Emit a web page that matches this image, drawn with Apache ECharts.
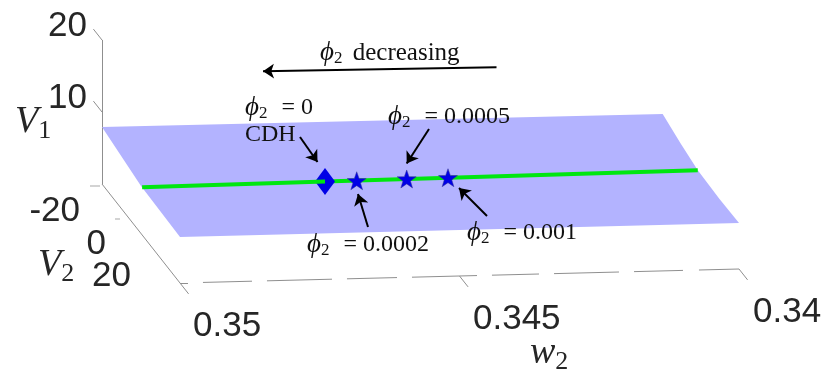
<!DOCTYPE html>
<html>
<head>
<meta charset="utf-8">
<title>V1 V2 w2</title>
<style>
html,body{margin:0;padding:0;background:#fff}
#chart{width:830px;height:391px}
</style>
<script src="https://cdn.jsdelivr.net/npm/echarts@6/dist/echarts.min.js"></script>
</head>
<body>
<div id="chart"></div>
<script>
// tick values
var w2Ticks = [0.35, 0.345, 0.34];
var w2TickLabels = ['0.35', '0.345', '0.34'];
var v2Ticks = [-20, 0, 20];
var v2TickLabels = ['-20', '0', '20'];
var v1Ticks = [10, 20];
var v1TickLabels = ['10', '20'];

// surface outline, going round the sheet
var surfaceW = [0.35, 0.33997, 0.34, 0.34004, 0.34, 0.34, 0.35, 0.35];
var surfaceV2 = [-20, -20, -10, 0, 10, 20, 20, 0];
var surfaceV1 = [7.92, 7.78, 7.15, 6.85, 6.3, 6.39, 6.39, 6.6];

// green branch (V2 = 0), left and right of the CDH point
var branchLeftW = [0.34998, 0.346708];
var branchLeftV1 = [6.43, 6.58];
var branchRightW = [0.346708, 0.34004];
var branchRightV1 = [6.58, 6.85];

// CDH point and the stars
var cdhPoint = [0.346708, 6.58];
var starW = [0.346141, 0.345247, 0.344508];
var starV1 = [6.58, 6.65, 6.68];

// near edge of the floor is broken into dashes
var edgeDashes = [
  [0.35, 0.349857], [0.349589, 0.348712], [0.348444, 0.347281],
  [0.347013, 0.346118], [0.34585, 0.344687], [0.344419, 0.343578],
  [0.343309, 0.342147], [0.341878, 0.341002], [0.340716, 0.34]
];

// w2, V2, V1 -> page position
function project(w, v2, v1) {
  return [
    102 + (0.35 - w) * 55900 + (v2 + 20) * 1.95,
    184 - (0.35 - w) * 1400 + (v2 + 20) * 2.475 - v1 * 7.2
  ];
}

var surfacePts = surfaceW.map(function (w, i) {
  return project(w, surfaceV2[i], surfaceV1[i]);
});

var axisSegs = [];
axisSegs.push({ coords: [project(0.35, -20, 0), project(0.35, -20, 20)] });
axisSegs.push({ coords: [project(0.35, -20, 0), project(0.35, 20, 0)] });
edgeDashes.forEach(function (d) {
  axisSegs.push({ coords: [project(d[0], 20, 0), project(d[1], 20, 0)] });
});
w2Ticks.forEach(function (w) {
  axisSegs.push({ coords: [project(w, 20, 0), project(w, 24.4, 0)] });
});
v1Ticks.forEach(function (v) {
  axisSegs.push({ coords: [project(0.35, -20, v), project(0.35, -24.4, v)] });
});

var arrows = [
  { coords: [[496.5, 67.3], [263, 71.3]] },
  { coords: [[300, 137], [317.5, 162]] },
  { coords: [[429, 129], [406.7, 163.5]] },
  { coords: [[368, 227], [358, 194]] },
  { coords: [[487, 216], [459, 188]] }
];

var mathRich = {
  p: { fontFamily: 'Liberation Serif', fontStyle: 'italic', fontSize: 27, fill: '#111' },
  s: { fontFamily: 'Liberation Serif', fontSize: 17, fill: '#111', padding: [12, 4, 0, 0] },
  t: { fontFamily: 'Liberation Serif', fontSize: 24, fill: '#111', padding: [0, 0, 0, 4] },
  c: { fontFamily: 'Liberation Serif', fontSize: 24, fill: '#111' },
  d: { fontFamily: 'Liberation Serif', fontSize: 25, fill: '#111' }
};
var bigRich = {
  p: { fontFamily: 'Liberation Serif', fontStyle: 'italic', fontSize: 38, fill: '#262626' },
  s: { fontFamily: 'Liberation Serif', fontSize: 26, fill: '#262626', padding: [18, 0, 0, 0] }
};

function mathText(str, x, y) {
  return {
    type: 'text', x: x, y: y, z: 100, silent: true,
    style: { text: str, rich: mathRich, textAlign: 'left', textVerticalAlign: 'middle' }
  };
}
function axisName(str, x, y) {
  return {
    type: 'text', x: x, y: y, z: 100, silent: true,
    style: { text: str, rich: bigRich, textAlign: 'left', textVerticalAlign: 'middle' }
  };
}
function tickText(str, x, y, align) {
  return {
    type: 'text', x: x, y: y, z: 100, silent: true,
    style: {
      text: str, fill: '#262626', textAlign: align, textVerticalAlign: 'middle',
      font: '35px "Liberation Sans"'
    }
  };
}

var texts = [
  tickText(v1TickLabels[1], 87, 26, 'right'),
  tickText(v1TickLabels[0], 87, 98, 'right'),
  tickText(v2TickLabels[0], 80, 211, 'right'),
  tickText(v2TickLabels[1], 106, 244, 'right'),
  tickText(v2TickLabels[2], 131, 276, 'right'),
  tickText(w2TickLabels[0], 193, 326, 'left'),
  tickText(w2TickLabels[1], 473, 319, 'left'),
  tickText(w2TickLabels[2], 753, 312, 'left'),
  axisName('{p|V}{s|1}', 15, 122),
  axisName('{p|V}{s|2}', 38, 265),
  axisName('{p|w}{s|2}', 530, 353),
  mathText('{p|ϕ}{s|2}{d| decreasing}', 320, 53),
  mathText('{p|ϕ}{s|2}{t| = 0}', 245, 108),
  mathText('{c|CDH}', 245, 135),
  mathText('{p|ϕ}{s|2}{t| = 0.0005}', 388, 117),
  mathText('{p|ϕ}{s|2}{t| = 0.0002}', 307, 245),
  mathText('{p|ϕ}{s|2}{t| = 0.001}', 467, 233)
];

var starPath = 'path://M0,-10L2.35,-3.24L9.51,-3.09L3.8,1.24L5.88,8.09L0,4L-5.88,8.09L-3.8,1.24L-9.51,-3.09L-2.35,-3.24Z';

var chart = echarts.init(document.getElementById('chart'), null, { renderer: 'canvas' });
chart.setOption({
  animation: false,
  backgroundColor: '#fff',
  grid: { left: 0, right: 0, top: 0, bottom: 0 },
  xAxis: { type: 'value', min: 0, max: 830, show: false },
  yAxis: { type: 'value', min: 0, max: 391, inverse: true, show: false },
  graphic: texts,
  series: [
    {
      type: 'lines', coordinateSystem: 'cartesian2d', silent: true, z: 1,
      symbol: 'none',
      lineStyle: { color: '#8f8f8f', width: 1, opacity: 1 },
      data: axisSegs
    },
    {
      type: 'custom', coordinateSystem: 'cartesian2d', silent: true, z: 2,
      data: [surfacePts[0]],
      renderItem: function (params, api) {
        return {
          type: 'polygon',
          shape: { points: surfacePts.map(function (p) { return api.coord(p); }) },
          style: { fill: '#b3b3ff' }
        };
      }
    },
    {
      type: 'line', silent: true, z: 3, showSymbol: false,
      lineStyle: { color: '#00e60f', width: 4, cap: 'butt' },
      data: branchRightW.map(function (w, i) { return project(w, 0, branchRightV1[i]); })
    },
    {
      type: 'scatter', silent: true, z: 4, symbol: 'diamond', symbolSize: [20, 27],
      itemStyle: { color: '#0000e6', opacity: 1 },
      data: [project(cdhPoint[0], 0, cdhPoint[1])]
    },
    {
      type: 'line', silent: true, z: 5, showSymbol: false,
      lineStyle: { color: '#00e60f', width: 4, cap: 'butt' },
      data: branchLeftW.map(function (w, i) { return project(w, 0, branchLeftV1[i]); })
    },
    {
      type: 'scatter', silent: true, z: 6, symbol: starPath, symbolSize: [19, 18],
      itemStyle: { color: '#0000e6', opacity: 1, borderColor: '#3a3a90', borderWidth: 0.5 },
      data: starW.map(function (w, i) { return project(w, 0, starV1[i]); })
    },
    {
      type: 'lines', coordinateSystem: 'cartesian2d', silent: true, z: 7,
      symbol: ['none', 'arrow'], symbolSize: 11,
      lineStyle: { color: '#000', width: 2, opacity: 1 },
      data: arrows
    },
    {
      // small stubs left of the V2 axis
      type: 'lines', coordinateSystem: 'cartesian2d', silent: true, z: 1,
      symbol: 'none',
      lineStyle: { color: '#c4c4c4', width: 1.5, opacity: 1 },
      data: [{ coords: [[90, 185.5], [100, 185.5]] }, { coords: [[115, 219], [120, 219]] }]
    }
  ]
});
</script>
</body>
</html>
